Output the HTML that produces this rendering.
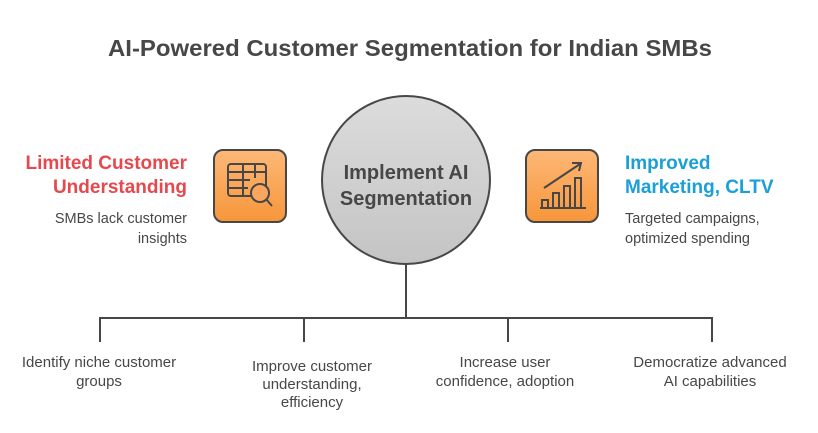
<!DOCTYPE html>
<html><head><meta charset="utf-8"><style>
body{margin:0;width:818px;height:428px;background:#fff;font-family:"Liberation Sans",sans-serif;overflow:hidden}
</style></head><body>
<svg width="818" height="428" xmlns="http://www.w3.org/2000/svg" font-family="Liberation Sans, sans-serif">
<defs>
<linearGradient id="c" x1="0" y1="0" x2="0" y2="1"><stop offset="0" stop-color="#dcdcdc"/><stop offset="1" stop-color="#c4c4c4"/></linearGradient>
<linearGradient id="o" x1="0" y1="0" x2="0" y2="1"><stop offset="0" stop-color="#fdb877"/><stop offset="1" stop-color="#f7963a"/></linearGradient>
</defs>
<text x="410" y="56" text-anchor="middle" font-size="23" font-weight="bold" fill="#474747" textLength="604" lengthAdjust="spacingAndGlyphs">AI-Powered Customer Segmentation for Indian SMBs</text>
<g stroke="#474747" stroke-width="2" fill="none">
<line x1="406" y1="264" x2="406" y2="318"/>
<line x1="100" y1="318" x2="712" y2="318"/>
<line x1="100" y1="317" x2="100" y2="342"/>
<line x1="304" y1="317" x2="304" y2="342"/>
<line x1="508" y1="317" x2="508" y2="342"/>
<line x1="712" y1="317" x2="712" y2="342"/>
</g>
<circle cx="406" cy="180" r="84" fill="url(#c)" stroke="#474747" stroke-width="2"/>
<text x="406" y="179" text-anchor="middle" font-size="20" font-weight="bold" fill="#474747">Implement AI</text>
<text x="406" y="205" text-anchor="middle" font-size="20" font-weight="bold" fill="#474747">Segmentation</text>
<rect x="214" y="150" width="72" height="72" rx="9" fill="url(#o)" stroke="#474747" stroke-width="2"/>
<g stroke="#474747" stroke-width="2" fill="none">
<rect x="228" y="164" width="38" height="32" rx="3"/>
<line x1="228" y1="172" x2="266" y2="172"/><line x1="228" y1="180" x2="250" y2="180"/><line x1="228" y1="188" x2="248" y2="188"/>
<line x1="243" y1="164" x2="243" y2="196"/><line x1="255" y1="164" x2="255" y2="178"/>
<circle cx="260" cy="193" r="9" fill="#fba65e"/><line x1="266" y1="199" x2="272" y2="206"/>
</g>
<rect x="526" y="150" width="72" height="72" rx="9" fill="url(#o)" stroke="#474747" stroke-width="2"/>
<g stroke="#474747" stroke-width="2" fill="none">
<line x1="540" y1="208" x2="586" y2="208"/>
<rect x="542" y="200" width="6" height="8"/><rect x="553" y="193" width="6" height="15"/><rect x="564" y="186" width="6" height="22"/><rect x="575" y="178" width="6" height="30"/>
<line x1="544" y1="188" x2="580" y2="164"/><polyline points="572,163 581,163 579,171"/>
</g>
<text x="187" y="169" text-anchor="end" font-size="19" font-weight="bold" fill="#e5484d">Limited Customer</text>
<text x="187" y="193" text-anchor="end" font-size="19" font-weight="bold" fill="#e5484d">Understanding</text>
<text x="187" y="223" text-anchor="end" font-size="14.5" fill="#474747">SMBs lack customer</text>
<text x="187" y="243" text-anchor="end" font-size="14.5" fill="#474747">insights</text>
<text x="625" y="169" font-size="19" font-weight="bold" fill="#1a9fd6">Improved</text>
<text x="625" y="193" font-size="19" font-weight="bold" fill="#1a9fd6">Marketing, CLTV</text>
<text x="625" y="223" font-size="14.5" fill="#474747">Targeted campaigns,</text>
<text x="625" y="243" font-size="14.5" fill="#474747">optimized spending</text>
<g font-size="15" fill="#474747" text-anchor="middle">
<text x="99" y="367">Identify niche customer</text><text x="99" y="386">groups</text>
<text x="312" y="371">Improve customer</text><text x="312" y="389">understanding,</text><text x="312" y="407">efficiency</text>
<text x="505" y="367">Increase user</text><text x="505" y="386">confidence, adoption</text>
<text x="710" y="367">Democratize advanced</text><text x="710" y="386">AI capabilities</text>
</g>
</svg>
</body></html>
